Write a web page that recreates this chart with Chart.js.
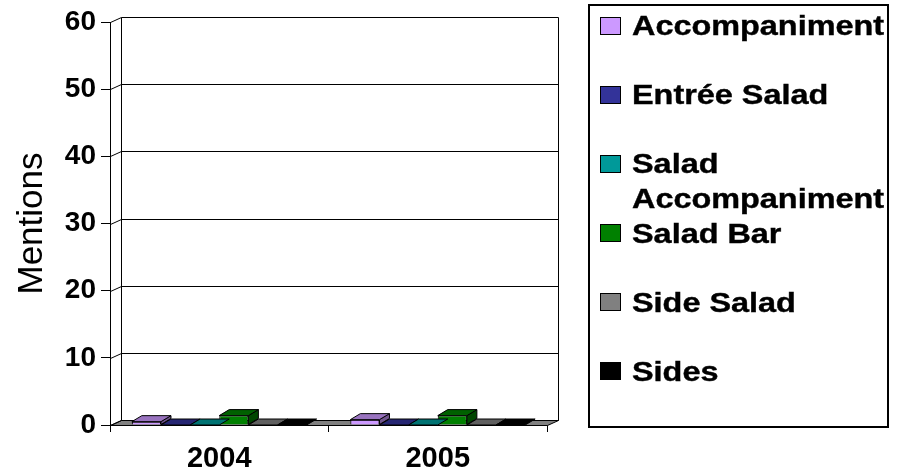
<!DOCTYPE html>
<html>
<head>
<meta charset="utf-8">
<script src="https://cdn.jsdelivr.net/npm/chart.js@4/dist/chart.umd.min.js"></script>
<style>
  body { margin: 0; background: #fff; }
  #wrap { position: relative; width: 899px; height: 473px; }
  #legend {
    position: absolute; left: 588px; top: 4px; width: 301px; height: 424px;
    box-sizing: border-box; border: 2px solid #000; padding-top: 3px;
    font-family: "Liberation Sans", Arial, sans-serif; font-weight: bold; font-size: 27px; color: #000;
  }
  .item { position: relative; height: 69.2px; }
  .swatch {
    position: absolute; left: 10px; top: 7.5px; width: 21px; height: 18px;
    box-sizing: border-box; border: 1px solid #000;
  }
  .label {
    position: absolute; left: 42px; top: 0; width: 225px; line-height: 35px;
    transform: scaleX(1.2); transform-origin: 0 0;
    -webkit-text-stroke: 0.4px #000;
  }
</style>
</head>
<body>
<div id="wrap">
  <canvas id="chart" width="899" height="473"></canvas>
  <div id="legend"></div>
</div>
<script>
const categories = ['2004', '2005'];
const seriesNames = ['Accompaniment', 'Entrée Salad', 'Salad Accompaniment', 'Salad Bar', 'Side Salad', 'Sides'];
const seriesColors = ['#CC99FF', '#333399', '#009999', '#008000', '#808080', '#000000'];

const accompaniment = [0.5, 0.8];
const entreeSalad = [0, 0];
const saladAccompaniment = [0, 0];
const saladBar = [1.4, 1.4];
const sideSalad = [0, 0];
const sides = [0, 0];
const seriesValues = [accompaniment, entreeSalad, saladAccompaniment, saladBar, sideSalad, sides];

const yMin = 0, yMax = 60, yStep = 10;

// depth of the walls / floor and of the bars
const DX = 11, DY = 5;
const BAR_DX = 10, BAR_DY = 6;

function shade(hex, f) {
  const n = parseInt(hex.slice(1), 16);
  const r = Math.round(((n >> 16) & 255) * f);
  const g = Math.round(((n >> 8) & 255) * f);
  const b = Math.round((n & 255) * f);
  return `rgb(${r},${g},${b})`;
}

function poly(ctx, pts, fill, stroke) {
  ctx.beginPath();
  ctx.moveTo(pts[0][0], pts[0][1]);
  for (let i = 1; i < pts.length; i++) ctx.lineTo(pts[i][0], pts[i][1]);
  ctx.closePath();
  if (fill) { ctx.fillStyle = fill; ctx.fill(); }
  if (stroke) { ctx.strokeStyle = stroke; ctx.stroke(); }
}

const depth = {
  id: 'depth',
  beforeDatasetsDraw(chart) {
    const { ctx, chartArea: a, scales: { y } } = chart;
    const L = a.left + 0.5, R = a.right + 0.5, B = Math.round(a.bottom) + 0.5;
    ctx.save();
    ctx.lineWidth = 1;

    // floor
    poly(ctx, [[L, B], [R, B], [R + DX, B - DY], [L + DX, B - DY]], '#808080', '#000');

    // back wall grid and the side wall diagonals
    ctx.strokeStyle = '#000';
    y.ticks.forEach(t => {
      const py = Math.round(y.getPixelForValue(t.value)) + 0.5;
      ctx.beginPath();
      ctx.moveTo(L, py);
      ctx.lineTo(L + DX, py - DY);
      ctx.lineTo(R + DX, py - DY);
      ctx.stroke();
    });

    // wall edges
    const topY = Math.round(y.getPixelForValue(yMax)) + 0.5;
    ctx.beginPath();
    ctx.moveTo(L + DX, topY - DY);
    ctx.lineTo(L + DX, B - DY);
    ctx.moveTo(R + DX, topY - DY);
    ctx.lineTo(R + DX, B - DY);
    ctx.stroke();
    ctx.restore();
  },
  afterDatasetsDraw(chart) {
    const ctx = chart.ctx;
    ctx.save();
    ctx.lineWidth = 1;
    chart.data.datasets.forEach((ds, i) => {
      const meta = chart.getDatasetMeta(i);
      meta.data.forEach(bar => {
        const { x, y, base, width } = bar.getProps(['x', 'y', 'base', 'width'], true);
        const l = x - width / 2, r = x + width / 2;
        const col = seriesColors[i];
        // side face
        if (base - y > 0.5) {
          poly(ctx, [[r, y], [r, base], [r + BAR_DX, base - BAR_DY], [r + BAR_DX, y - BAR_DY]], shade(col, 0.55), '#000');
        }
        // top face
        poly(ctx, [[l, y], [r, y], [r + BAR_DX, y - BAR_DY], [l + BAR_DX, y - BAR_DY]], shade(col, 0.75), '#000');
      });
    });
    ctx.restore();
  }
};

const chart = new Chart(document.getElementById('chart'), {
  type: 'bar',
  data: {
    labels: categories,
    datasets: seriesNames.map((name, i) => ({
      label: name,
      data: seriesValues[i],
      backgroundColor: seriesColors[i],
      borderColor: '#000',
      borderWidth: 1,
      categoryPercentage: 0.8,
      barPercentage: 1.0
    }))
  },
  options: {
    responsive: false,
    animation: false,
    devicePixelRatio: 1,
    layout: { padding: { top: 22, right: 352, left: 0, bottom: 0 } },
    plugins: {
      legend: { display: false },
      tooltip: { enabled: false }
    },
    scales: {
      x: {
        grid: { offset: true, drawOnChartArea: false, drawTicks: true, tickLength: 7, color: '#000' },
        border: { display: true, color: '#000', width: 1 },
        ticks: {
          color: '#000', padding: 10,
          font: { family: 'Liberation Sans', size: 29, weight: 'bold' }
        },
        afterFit(scale) { scale.height = 48; }
      },
      y: {
        min: yMin, max: yMax,
        grid: { drawOnChartArea: false, drawTicks: true, tickLength: 9, color: '#000' },
        border: { display: true, color: '#000', width: 1 },
        ticks: {
          stepSize: yStep, color: '#000', padding: 5,
          font: { family: 'Liberation Sans', size: 28, weight: 'bold' }
        },
        title: {
          display: true, text: 'Mentions', color: '#000',
          padding: { top: 11, bottom: 0 },
          font: { family: 'Liberation Sans', size: 35, weight: 'normal' }
        },
        afterFit(scale) { scale.width = 110; }
      }
    }
  },
  plugins: [depth]
});

// legend box
const legend = document.getElementById('legend');
seriesNames.forEach((name, i) => {
  const item = document.createElement('div');
  item.className = 'item';
  const sw = document.createElement('span');
  sw.className = 'swatch';
  sw.style.background = seriesColors[i];
  const lab = document.createElement('span');
  lab.className = 'label';
  lab.textContent = name;
  item.appendChild(sw);
  item.appendChild(lab);
  legend.appendChild(item);
});
</script>
</body>
</html>
